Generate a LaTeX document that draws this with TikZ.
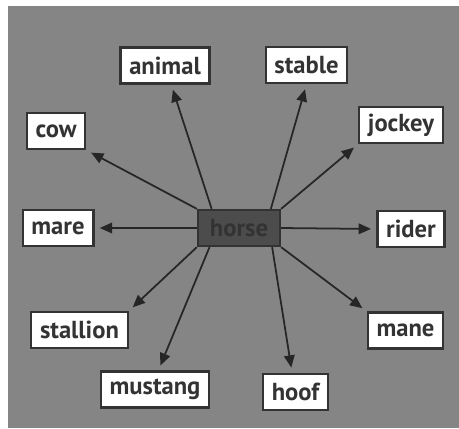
\documentclass[tikz,border=0pt]{standalone}
\usepackage{fontspec}
\setmainfont{PT Sans}
\usetikzlibrary{arrows.meta}

\definecolor{bggray}{gray}{0.52}
\definecolor{inkgray}{gray}{0.20}
\definecolor{hubgray}{gray}{0.30}

\tikzset{
  word/.style={draw=inkgray, line width=1.3pt, fill=white, text=inkgray,
    font=\fontsize{14}{16}\selectfont\bfseries, inner xsep=5pt,
    minimum height=0.72cm},
  hub/.style={word, fill=hubgray, text=black!80, minimum width=1.64cm},
  link/.style={line width=1pt, draw=black!85, shorten >=3pt,
    -{Triangle[length=7pt,width=6pt]}}
}

\begin{document}
\begin{tikzpicture}
  \useasboundingbox (0,0) rectangle (9.18,8.56);
  \fill[bggray] (0.16,0) rectangle (9.18,8.44);

  \node[hub] (horse) at (4.78,4.00) {horse};

  \node[word] (animal)   at (3.30,7.25) {animal};
  \node[word] (stable)   at (6.13,7.26) {stable};
  \node[word] (cow)      at (1.12,5.94) {cow};
  \node[word] (jockey)   at (8.02,6.06) {jockey};
  \node[word] (mare)     at (1.16,4.00) {mare};
  \node[word] (rider)    at (8.22,3.98) {rider};
  \node[word] (stallion) at (1.59,1.96) {stallion};
  \node[word] (mane)     at (8.11,1.95) {mane};
  \node[word] (mustang)  at (3.10,0.77) {mustang};
  \node[word] (hoof)     at (5.91,0.72) {hoof};

  % spokes out of the centre box
  \draw[link] (horse.145) -- (animal);
  \draw[link] (horse.31) -- (stable.south);
  \draw[link] (horse.north west) -- (cow.south east);
  \draw[link] (horse.north east) -- (jockey.south west);
  \draw[link] (horse.west) -- (mare.east);
  \draw[link] (horse.east) -- (rider.west);
  \draw[link] (horse.south west) -- (stallion.north east);
  \draw[link] (horse.213) -- (mustang.80);
  \draw[link] (horse.330) -- (hoof.100);
  \draw[link] (horse.south east) -- (mane.north west);
\end{tikzpicture}
\end{document}
